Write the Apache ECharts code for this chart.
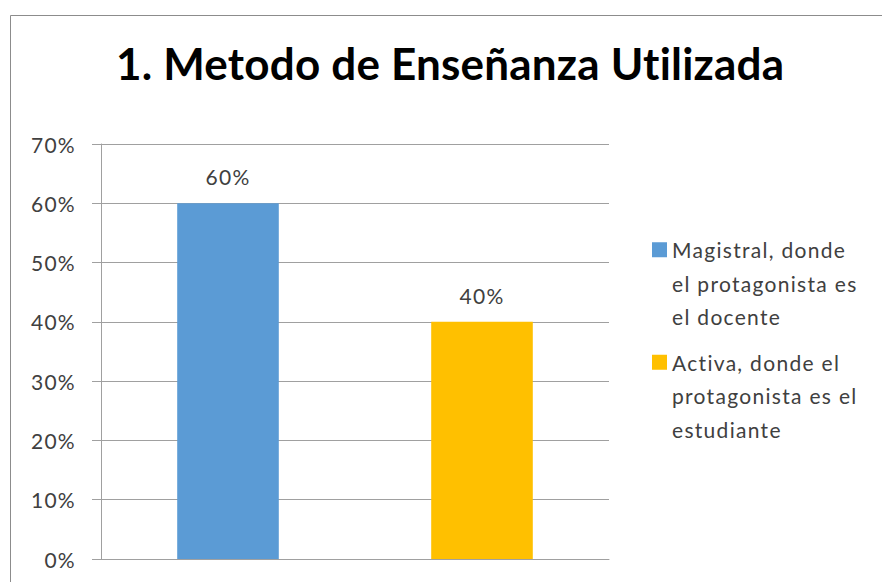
<!DOCTYPE html>
<html><head><meta charset="utf-8">
<script src="https://cdn.jsdelivr.net/npm/echarts@6/dist/echarts.min.js"></script>
<style>html,body{margin:0;padding:0;background:#fff}#c{width:882px;height:582px}
#c svg text{letter-spacing:1.3px}
#c svg text[style*="bold"]{letter-spacing:0.2px}
</style>
</head><body><div id="c"></div>
<script>
var titleText = '1. Metodo de Enseñanza Utilizada';
var categories = ['Magistral', 'Activa'];
var seriesNames = ['Magistral, donde el protagonista es el docente', 'Activa, donde el protagonista es el estudiante'];
var legendLines = [['Magistral, donde', 'el protagonista es', 'el docente'], ['Activa, donde el', 'protagonista es el', 'estudiante']];
var magistralValues = [0.60, '-'];
var activaValues = ['-', 0.40];
var colors = ['#5B9BD5', '#FFC000'];

var FONT = 'Lato';
var chart = echarts.init(document.getElementById('c'), null, {renderer: 'svg'});
var iconPath = 'path://M0,0h0.01 M0,9h15v15h-15z M0,100h0.01';
var pct = function (v) { return Math.round(v * 100) + '%'; };
chart.setOption({
  animation: false,
  backgroundColor: '#fff',
  title: {
    text: titleText, left: 111, top: 36,
    textStyle: {fontFamily: FONT, fontSize: 44, fontWeight: 'bold', color: '#000'}
  },
  graphic: [{
    type: 'rect', left: 8, top: 13, shape: {width: 1000, height: 700},
    style: {fill: 'none', stroke: '#8c8c8c', lineWidth: 1}
  }],
  grid: {left: 101, right: 273, top: 144, bottom: 23},
  legend: {
    orient: 'vertical', left: 647, top: 228, itemGap: 12,
    itemWidth: 15, itemHeight: 100, icon: iconPath,
    data: seriesNames,
    formatter: function (name) { return legendLines[seriesNames.indexOf(name)].join('\n'); },
    textStyle: {fontFamily: FONT, fontSize: 21, color: '#404040', lineHeight: 33.5},
    itemStyle: {borderWidth: 0}
  },
  xAxis: {
    type: 'category', data: categories,
    axisLine: {show: true, lineStyle: {color: '#A0A0A0'}},
    axisTick: {show: false}, axisLabel: {show: false}
  },
  yAxis: {
    type: 'value', min: 0, max: 0.7, interval: 0.1,
    axisLine: {show: true, lineStyle: {color: '#A0A0A0'}},
    axisTick: {show: true, length: 9, lineStyle: {color: '#A0A0A0'}},
    splitLine: {show: true, lineStyle: {color: '#A0A0A0'}},
    axisLabel: {
      margin: 25, fontFamily: FONT, fontSize: 21, color: '#404040',
      formatter: pct
    }
  },
  series: [
    {name: seriesNames[0], type: 'bar', data: magistralValues, barWidth: '40%', barGap: '-100%',
     itemStyle: {color: colors[0]},
     label: {show: true, position: 'top', distance: 16, fontFamily: FONT, fontSize: 21, color: '#404040',
             formatter: function (p) { return pct(p.value); }}},
    {name: seriesNames[1], type: 'bar', data: activaValues, barWidth: '40%', barGap: '-100%',
     itemStyle: {color: colors[1]},
     label: {show: true, position: 'top', distance: 16, fontFamily: FONT, fontSize: 21, color: '#404040',
             formatter: function (p) { return pct(p.value); }}}
  ]
});
</script></body></html>
